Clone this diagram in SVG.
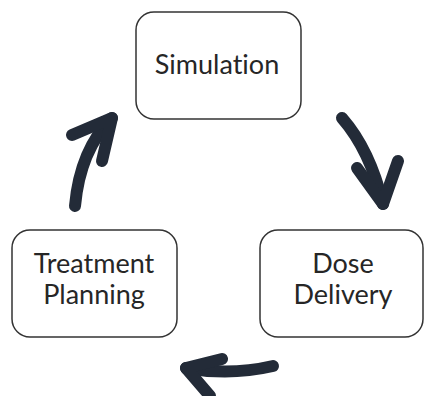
<svg xmlns="http://www.w3.org/2000/svg" width="425" height="396" viewBox="0 0 425 396">
  <style>
    .box { fill: #ffffff; stroke: #333333; stroke-width: 1.5; }
    .label { font-family: Lato, "Open Sans", sans-serif; font-size: 27px; fill: #262626; text-anchor: middle; font-variant-ligatures: none; }
    .stroke { fill: none; stroke: #232b38; stroke-width: 12; stroke-linecap: round; stroke-linejoin: round; }
  </style>
  <rect width="425" height="396" fill="#ffffff"/>

  <g id="simulation">
    <rect class="box" x="136" y="12" width="165" height="107" rx="18"/>
    <text class="label" x="217" y="74">Simulation</text>
  </g>

  <g id="dose-delivery">
    <rect class="box" x="260" y="230" width="163" height="107" rx="18"/>
    <text class="label" x="343" y="273">Dose</text>
    <text class="label" x="343" y="304">Delivery</text>
  </g>

  <g id="treatment-planning">
    <rect class="box" x="12" y="230" width="165" height="107" rx="18"/>
    <text class="label" x="94" y="273">Treatment</text>
    <text class="label" x="94" y="304">Planning</text>
  </g>

  <g id="connectors">
    <!-- Simulation to Dose Delivery -->
    <path class="stroke" d="M342 118 Q370 150 383 204"/>
    <path class="stroke" d="M357 168 L383 204 L398 161"/>
    <!-- Dose Delivery to Treatment Planning -->
    <path class="stroke" d="M273 366 Q230 376 186 368"/>
    <path class="stroke" d="M222 359 L186 368 L210 396"/>
    <!-- Treatment Planning to Simulation -->
    <path class="stroke" d="M75 206 Q80 150 112 118"/>
    <path class="stroke" d="M72 135 L112 118 L102 161"/>
  </g>
</svg>
